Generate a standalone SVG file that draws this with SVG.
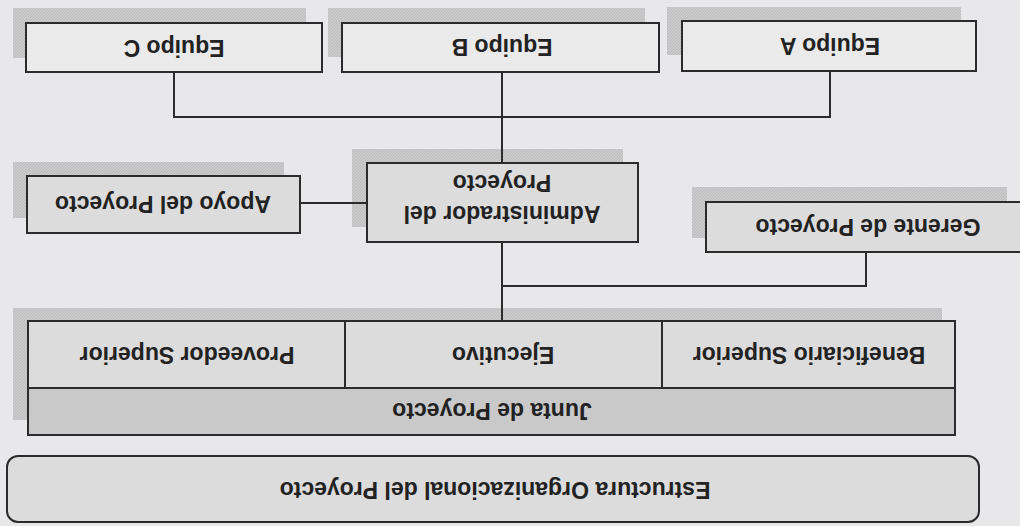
<svg xmlns="http://www.w3.org/2000/svg" width="1020" height="526" viewBox="0 0 1020 526">
<defs>
<pattern id="hatch" width="3" height="3" patternUnits="userSpaceOnUse">
<rect width="3" height="3" fill="#cbcbcc"/>
<path d="M0 3 L3 0" stroke="#b8b8b9" stroke-width="0.8"/>
</pattern>
</defs>
<style>
.bg{fill:#e8e8ea}
.shadow{fill:url(#hatch)}
.box{stroke:#2b2b2b;stroke-width:2}
.light{fill:#eaeaeb}
.mid{fill:#dcdcdd}
.dark{fill:#c9c9ca}
.t{font-family:"Liberation Sans",Arial,sans-serif;font-weight:bold;font-size:23px;fill:#222;text-anchor:middle}
.conn{fill:none;stroke:#2b2b2b;stroke-width:2}
</style>
<rect class="bg" x="0" y="0" width="1020" height="526"/>

<g id="equipo-c">
<rect class="shadow" x="13" y="8" width="293" height="50"/>
<rect class="box light" x="26" y="23" width="296" height="49"/>
<text class="t" x="174" y="56" transform="rotate(180 174 48)">Equipo C</text>
</g>

<g id="equipo-b">
<rect class="shadow" x="328" y="8" width="317" height="49"/>
<rect class="box light" x="342" y="23" width="317" height="49"/>
<text class="t" x="502" y="55" transform="rotate(180 502 47)">Equipo B</text>
</g>

<g id="equipo-a">
<rect class="shadow" x="667" y="7" width="294" height="48"/>
<rect class="box light" x="682" y="21" width="294" height="50"/>
<text class="t" x="830" y="54" transform="rotate(180 830 46)">Equipo A</text>
</g>

<g id="administrador">
<rect class="shadow" x="352" y="149" width="271" height="78"/>
<rect class="box mid" x="367" y="163" width="271" height="79"/>
<g transform="rotate(180 502 202.5)">
<text class="t" x="502" y="199">Administrador del</text>
<text class="t" x="502" y="230">Proyecto</text>
</g>
</g>

<g id="apoyo">
<rect class="shadow" x="13" y="162" width="271" height="56"/>
<rect class="box mid" x="27" y="176" width="273" height="57"/>
<text class="t" x="163" y="212" transform="rotate(180 163 204)">Apoyo del Proyecto</text>
</g>

<g id="gerente">
<rect class="shadow" x="692" y="187" width="315" height="51"/>
<rect class="box mid" x="706" y="202" width="330" height="50"/>
<text class="t" x="868" y="235" transform="rotate(180 868 227)">Gerente de Proyecto</text>
</g>

<g id="junta">
<rect class="shadow" x="13" y="308" width="929" height="112"/>
<rect class="box mid" x="28" y="321" width="927" height="67"/>
<rect class="box dark" x="28" y="388" width="927" height="47"/>
<path class="conn" d="M345 321 V388 M662 321 V388"/>
<text class="t" x="187" y="363" transform="rotate(180 187 355)">Proveedor Superior</text>
<text class="t" x="503" y="363" transform="rotate(180 503 355)">Ejecutivo</text>
<text class="t" x="809" y="363" transform="rotate(180 809 355)">Beneficiario Superior</text>
<text class="t" x="492" y="419" transform="rotate(180 492 411)">Junta de Proyecto</text>
</g>

<g id="estructura">
<rect class="box mid" x="7" y="456" width="972" height="66" rx="11"/>
<text class="t" x="495" y="498" transform="rotate(180 495 490)">Estructura Organizacional del Proyecto</text>
</g>

<g id="connectors">
<path class="conn" d="M174 72 V117 H830 V71"/>
<path class="conn" d="M502 72 V163"/>
<path class="conn" d="M502 242 V321"/>
<path class="conn" d="M866 252 V286 H502"/>
<path class="conn" d="M300 203 H367"/>
</g>
</svg>
